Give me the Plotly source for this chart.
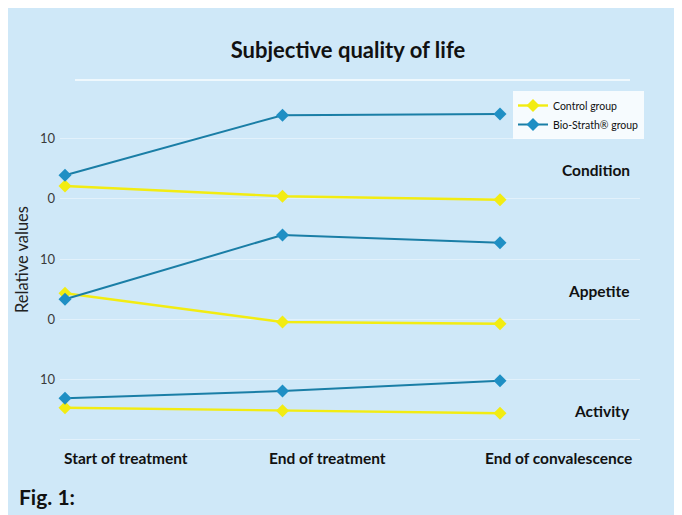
import plotly.graph_objects as go

# ---------------- data ----------------
stages = ["Start of treatment", "End of treatment", "End of convalescence"]
panels = ["Condition", "Appetite", "Activity"]

control_condition = [2.0, 0.3, -0.3]
biostrath_condition = [3.8, 13.8, 14.0]
control_appetite = [4.3, -0.5, -0.8]
biostrath_appetite = [3.3, 14.0, 12.7]
control_activity = [5.2, 4.7, 4.3]
biostrath_activity = [6.8, 8.0, 9.7]

y_tick_values = [0, 10]
y_tick_labels = [["0", "10"], ["0", "10"], ["", "10"]]

control_series = [control_condition, control_appetite, control_activity]
biostrath_series = [biostrath_condition, biostrath_appetite, biostrath_activity]

# ---------------- layout geometry (page pixels; page has an 8px body margin) ----------------
W, H = 682, 515
OFF = 8
PLOT_L, PLOT_R, PLOT_T, PLOT_B = 60, 640, 75, 445  # page pixels
ML, MR = PLOT_L - OFF, W - (PLOT_R - OFF)
MT, MB = PLOT_T - OFF, H - (PLOT_B - OFF)
PW, PH = PLOT_R - PLOT_L, PLOT_B - PLOT_T
PX_PER_UNIT = 6.0
PX_PER_STAGE = 217.5
zero_px = [198, 319, 439]
panel_px = [(75, 215), (190, 335), (300, 445)]


def px_x(px):
    return (px - PLOT_L) / PW


def px_y(py):
    return (PLOT_B - py) / PH


BG = "#cfe8f8"
BLUE_LINE = "#1a7ea6"
BLUE_MARK = "#1f8fc4"
YELLOW = "#f2ec12"
FONT = "Lato"

fig = go.Figure()

axis_names = ["y", "y2", "y3"]
for i in range(3):
    fig.add_trace(go.Scatter(
        x=stages, y=control_series[i], yaxis=axis_names[i], mode="lines+markers",
        name="Control group", legendgroup="c", showlegend=(i == 0),
        line=dict(color=YELLOW, width=2.4),
        marker=dict(symbol="diamond", size=10, color=YELLOW),
        cliponaxis=False,
    ))
    fig.add_trace(go.Scatter(
        x=stages, y=biostrath_series[i], yaxis=axis_names[i], mode="lines+markers",
        name="Bio-Strath® group", legendgroup="b", showlegend=(i == 0),
        line=dict(color=BLUE_LINE, width=2),
        marker=dict(symbol="diamond", size=10, color=BLUE_MARK),
        cliponaxis=False,
    ))

layout_axes = {}
for i in range(3):
    top, bot = panel_px[i]
    z = zero_px[i]
    rng = [(z - bot) / PX_PER_UNIT, (z - top) / PX_PER_UNIT]
    dom = [px_y(bot), px_y(top)]
    key = "yaxis" if i == 0 else f"yaxis{i + 1}"
    ax = dict(
        domain=dom, range=rng, tickvals=y_tick_values, ticktext=y_tick_labels[i],
        showgrid=True, gridcolor="rgba(255,255,255,0.4)", gridwidth=1,
        zeroline=False, showline=False, ticks="", ticklabelstandoff=4,
        tickfont=dict(family=FONT, size=13, color="#3a3a3a"),
        fixedrange=True,
    )
    if i > 0:
        ax["anchor"] = "x"
    layout_axes[key] = ax

x0 = -(65 - PLOT_L) / PX_PER_STAGE
fig.update_layout(
    width=W, height=H,
    margin=dict(l=ML, r=MR, t=MT, b=MB),
    paper_bgcolor=BG, plot_bgcolor="rgba(0,0,0,0)",
    xaxis=dict(range=[x0, x0 + PW / PX_PER_STAGE], showticklabels=False, showgrid=False,
               zeroline=False, showline=False, ticks=""),
    title=dict(text="<b>Subjective quality of life</b>", x=(348 - OFF) / W, xanchor="center",
               y=1 - (50 - OFF) / H, yanchor="middle", yref="container",
               font=dict(family=FONT, size=22, color="#111111")),
    legend=dict(x=px_x(513), y=px_y(91), xanchor="left", yanchor="top",
                bgcolor="rgba(255,255,255,0.8)", borderwidth=0,
                font=dict(family=FONT, size=10.5, color="#111111"),
                itemwidth=30, tracegroupgap=0),
    showlegend=True,
    **layout_axes,
)

annotations = []
# stage labels
shifts = [-3, -16, -17]
for s, sh in zip(stages, shifts):
    annotations.append(dict(x=s, xref="x", y=px_y(458), yref="paper", text=f"<b>{s}</b>",
                            xanchor="left", yanchor="middle", xshift=sh, showarrow=False,
                            font=dict(family=FONT, size=15.5, color="#111111")))
# panel labels
for i, p in enumerate(panels):
    annotations.append(dict(x=px_x(632), xref="paper", y=4.6, yref=axis_names[i],
                            text=f"<b>{p}</b>", xanchor="right", yanchor="middle",
                            showarrow=False, font=dict(family=FONT, size=15.5, color="#111111")))
# y title
annotations.append(dict(x=px_x(22), xref="paper", y=px_y(260), yref="paper",
                        text="Relative values", textangle=-90, showarrow=False,
                        xanchor="center", yanchor="middle",
                        font=dict(family=FONT, size=16.5, color="#222222")))
# figure label
annotations.append(dict(x=px_x(17), xref="paper", y=px_y(497), yref="paper",
                        text="<b>Fig. 1:</b>", showarrow=False, xanchor="left", yanchor="middle",
                        font=dict(family=FONT, size=21, color="#111111")))
fig.update_layout(annotations=annotations)

shapes = [
    dict(type="line", xref="paper", yref="paper", x0=px_x(75), x1=px_x(630),
         y0=px_y(80), y1=px_y(80), line=dict(color="rgba(255,255,255,0.9)", width=1.5)),
]
fig.update_layout(shapes=shapes)

fig.write_html("out.html")
